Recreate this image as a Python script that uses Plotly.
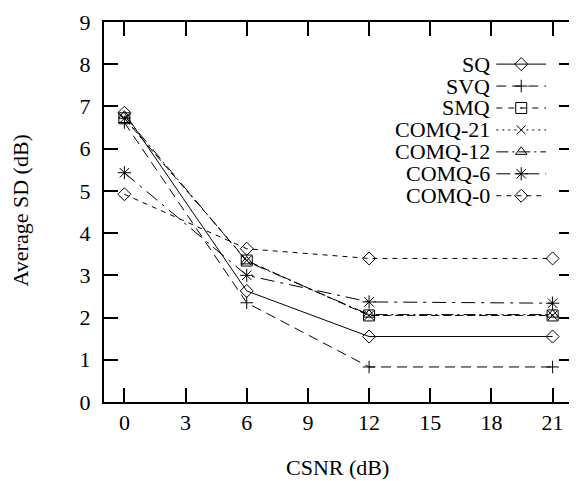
import plotly.graph_objects as go

# ---------------- data ----------------
csnr = [0, 6, 12, 21]
names = ["SQ", "SVQ", "SMQ", "COMQ-21", "COMQ-12", "COMQ-6", "COMQ-0"]
sq = [6.85, 2.63, 1.55, 1.55]
svq = [6.62, 2.35, 0.83, 0.83]
smq = [6.72, 3.35, 2.05, 2.05]
comq21 = [6.72, 3.35, 2.05, 2.05]
comq12 = [6.78, 3.33, 2.07, 2.07]
comq6 = [5.43, 3.00, 2.37, 2.34]
comq0 = [4.92, 3.63, 3.40, 3.40]
x_ticks = [0, 3, 6, 9, 12, 15, 18, 21]
y_ticks = [0, 1, 2, 3, 4, 5, 6, 7, 8, 9]

series = [sq, svq, smq, comq21, comq12, comq6, comq0]

# ---------------- styles ----------------
symbols = ["diamond-open", "cross-thin-open", "square-open-dot", "x-thin-open",
           "triangle-up-open", "asterisk-open", "diamond-open"]
sizes = [10, 9, 11, 9, 10, 11, 10]
dashes = ["solid", "10px,6px", "6px,6px", "2px,4px", "12px,4px,2px,4px",
          "14px,6px,3px,6px", "5px,5px"]

FONT = "Liberation Serif"
FS = 22
OFF = 8  # page body margin of the html page
W, H = 577 - OFF, 481 - OFF
L, R, T, B = 104 - OFF, 2, 14 - OFF, 79
PW, PH = W - L - R, H - T - B


def px_to_paper(px, py):
    """convert screen pixel to paper coordinates"""
    return (px - OFF - L) / PW, 1 - (py - OFF - T) / PH


fig = go.Figure()
for name, vals, sym, sz, dash in zip(names, series, symbols, sizes, dashes):
    fig.add_trace(go.Scatter(
        x=csnr, y=vals, mode="lines+markers", name=name, showlegend=False,
        line=dict(color="black", width=1, dash=dash),
        marker=dict(symbol=sym, size=sz, color="black",
                    line=dict(color="black", width=1)),
    ))

# ---------------- manual legend (pixel-based overlay axes) ----------------
leg_text_right = 389
leg_line_x0, leg_line_x1 = 394, 444
leg_y0, leg_dy = 43, 22.4
for i, (name, sym, sz, dash) in enumerate(zip(names, symbols, sizes, dashes)):
    yy = leg_y0 + i * leg_dy
    fig.add_trace(go.Scatter(
        x=[leg_line_x0, leg_line_x1], y=[yy, yy], mode="lines",
        xaxis="x2", yaxis="y2", showlegend=False, hoverinfo="skip",
        line=dict(color="black", width=1, dash=dash),
    ))
    fig.add_trace(go.Scatter(
        x=[(leg_line_x0 + leg_line_x1) / 2], y=[yy], mode="markers",
        xaxis="x2", yaxis="y2", showlegend=False, hoverinfo="skip",
        marker=dict(symbol=sym, size=sz, color="black",
                    line=dict(color="black", width=1)),
    ))
    fig.add_annotation(x=leg_text_right, y=yy, xref="x2", yref="y2",
                       text=name, showarrow=False, xanchor="right",
                       yanchor="middle", borderpad=0,
                       font=dict(family=FONT, size=FS, color="black"))

# axis titles
yx, yy_ = px_to_paper(20, 206)
fig.add_annotation(x=yx, y=yy_, xref="paper", yref="paper", text="Average SD (dB)",
                   textangle=-90, showarrow=False, xanchor="center",
                   yanchor="middle", font=dict(family=FONT, size=FS, color="black"))
xx, xy = px_to_paper(338, 469)
fig.add_annotation(x=xx, y=xy, xref="paper", yref="paper", text="CSNR (dB)",
                   showarrow=False, xanchor="center", yanchor="middle",
                   font=dict(family=FONT, size=FS, color="black"))

axis_common = dict(
    showgrid=False, zeroline=False, showline=True, linecolor="black",
    linewidth=2, ticks="inside", ticklen=14, tickwidth=2, tickcolor="black",
    mirror="allticks", tickfont=dict(family=FONT, size=FS, color="black"),
    ticklabeloverflow="allow",
)

fig.update_layout(
    width=W, height=H,
    margin=dict(l=L, r=R, t=T, b=B, pad=0),
    paper_bgcolor="white", plot_bgcolor="white",
    showlegend=False,
    xaxis=dict(range=[-1, 22], tickvals=x_ticks, ticktext=[str(v) for v in x_ticks],
               **axis_common),
    yaxis=dict(range=[0, 9], tickvals=y_ticks, ticktext=[str(v) for v in y_ticks],
               ticklabelstandoff=7, **axis_common),
    xaxis2=dict(range=[0, PW], overlaying="x", anchor="y2", visible=False,
                fixedrange=True),
    yaxis2=dict(range=[PH, 0], overlaying="y", anchor="x2", visible=False,
                fixedrange=True),
)

fig.write_html("out.html")
